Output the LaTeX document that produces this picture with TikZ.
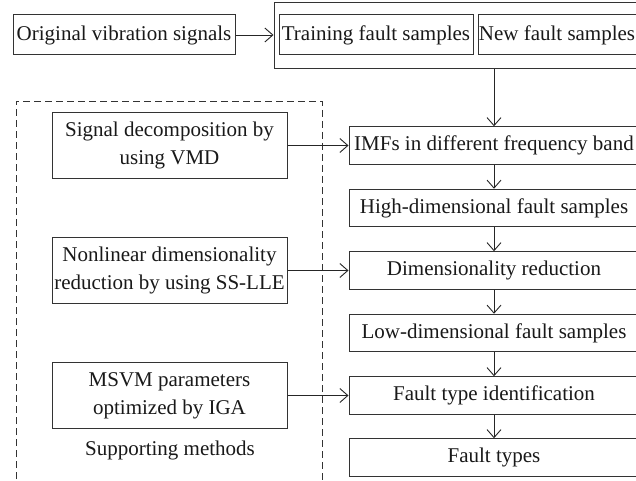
\documentclass[tikz,border=0pt]{standalone}
\usepackage{fontspec}
\setmainfont{Liberation Serif}
\usetikzlibrary{arrows.meta}
\begin{document}
\begin{tikzpicture}[x=1pt,y=-1pt,
  font=\fontsize{21}{28}\selectfont,
  every node/.style={inner sep=0pt, text=black!90},
  flowbox/.style={draw=black!80, line width=1pt, minimum width=290pt, minimum height=37.5pt, align=center},
  methodbox/.style={draw=black!80, line width=1pt, minimum width=235pt, minimum height=66pt, align=center},
  topbox/.style={draw=black!80, line width=1pt, minimum height=40pt},
  link/.style={draw=black!85, line width=0.9pt, -{Straight Barb[length=8pt,width=14pt,line width=0.9pt]}}
]
\useasboundingbox (0,0) rectangle (636,481);
\clip (0,0) rectangle (636,481);
\fill[white] (0,0) rectangle (636,481);

% input stage
\node[topbox, minimum width=222pt] (orig) at (124,35) {Original vibration signals};
\node[draw=black!80, line width=1pt, minimum width=372pt, minimum height=66pt] (samples) at (460,36) {};
\node[topbox, minimum width=194pt] (train) at (376,35) {Training fault samples};
\node[topbox, minimum width=163pt, anchor=west] (new) at (478,35) {\hspace*{-6pt}New fault samples};

% supporting methods frame
\draw[black!80, line width=0.9pt, dash pattern=on 7pt off 4pt] (16,490) -- (16,101) -- (322,101) -- (322,490);

% main processing chain
\node[flowbox] (imf)  at (494,145.5) {IMFs in different frequency band};
\node[flowbox] (high) at (494,208)   {High-dimensional fault samples};
\node[flowbox] (red)  at (494,270.5) {Dimensionality reduction};
\node[flowbox] (low)  at (494,333)   {Low-dimensional fault samples};
\node[flowbox] (fti)  at (494,395.5) {Fault type identification};
\node[flowbox] (ft)   at (494,457.5) {Fault types};

% supporting methods
\node[methodbox] (vmd)  at (169.5,145.5) {Signal decomposition by\\using VMD};
\node[methodbox] (lle)  at (169.5,270.5) {Nonlinear dimensionality\\reduction by using SS-LLE};
\node[methodbox] (msvm) at (169.5,395.5) {MSVM parameters\\optimized by IGA};
\node (sup) at (170,450) {Supporting methods};

% connectors
\draw[link] (orig.east) -- (samples.west |- orig.east);
\draw[link] (samples.south -| imf.north) -- (imf.north);
\draw[link] (imf) -- (high);
\draw[link] (high) -- (red);
\draw[link] (red) -- (low);
\draw[link] (low) -- (fti);
\draw[link] (fti) -- (ft);
\draw[link] (vmd.east) -- (imf.west);
\draw[link] (lle.east) -- (red.west);
\draw[link] (msvm.east) -- (fti.west);
\end{tikzpicture}
\end{document}
